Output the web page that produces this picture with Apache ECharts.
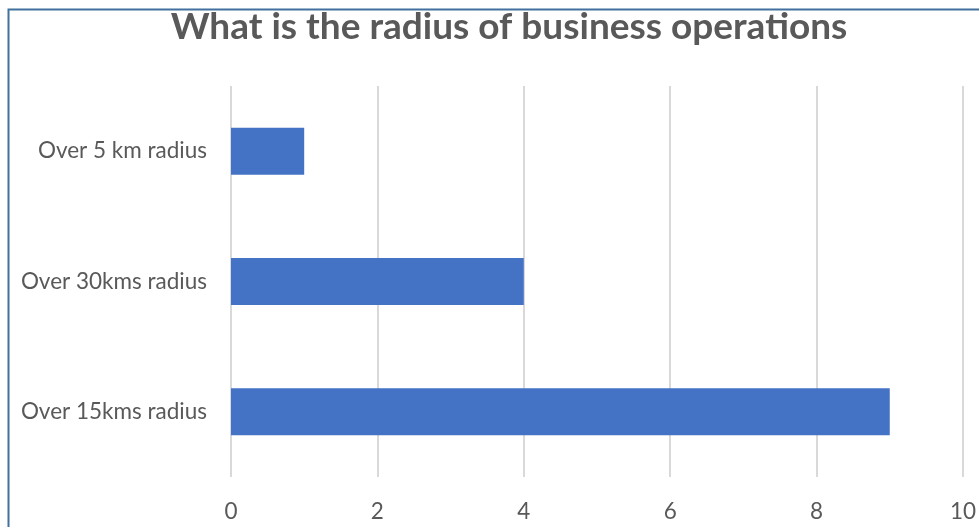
<!DOCTYPE html>
<html>
<head>
<meta charset="utf-8">
<script src="https://cdn.jsdelivr.net/npm/echarts@6/dist/echarts.min.js"></script>
<style>
  html, body { margin: 0; padding: 0; background: #ffffff; }
  #chart { width: 979px; height: 527px; }
</style>
</head>
<body>
<div id="chart"></div>
<script>
// Categories listed bottom-to-top as the category axis draws them
const categories = ['Over 15kms radius', 'Over 30kms radius', 'Over 5 km radius'];
const counts = [9, 4, 1];
const xTicks = { min: 0, max: 10, interval: 2 };
const chartTitle = 'What is the radius of business operations';

const chart = echarts.init(document.getElementById('chart'), null, { renderer: 'canvas' });

chart.setOption({
  animation: false,
  backgroundColor: '#ffffff',
  textStyle: { fontFamily: 'Lato' },
  title: {
    text: chartTitle,
    left: 504,
    top: 4,
    textAlign: 'center',
    textStyle: { fontFamily: 'Lato', fontWeight: 'bold', fontSize: 37, color: '#595959' }
  },
  graphic: [{
    type: 'rect',
    shape: { x: 8.5, y: 9.5, width: 1000, height: 600 },
    style: { fill: 'none', stroke: '#41719c', lineWidth: 2 },
    silent: true,
    z: 100
  }],
  grid: { left: 231, right: 11, top: 86, bottom: 50, containLabel: false },
  xAxis: {
    type: 'value',
    min: xTicks.min,
    max: xTicks.max,
    interval: xTicks.interval,
    axisLine: { show: false },
    axisTick: { show: false },
    axisLabel: { color: '#595959', fontSize: 22.5, margin: 23, fontFamily: 'Lato' },
    splitLine: { lineStyle: { color: '#d9d9d9', width: 2 } }
  },
  yAxis: {
    type: 'category',
    data: categories,
    axisLine: { show: false },
    axisTick: { show: false },
    axisLabel: { color: '#595959', fontSize: 22.5, margin: 24, fontFamily: 'Lato' }
  },
  series: [{
    type: 'bar',
    data: counts,
    barWidth: 47,
    itemStyle: { color: '#4472c4' }
  }]
});
</script>
</body>
</html>
